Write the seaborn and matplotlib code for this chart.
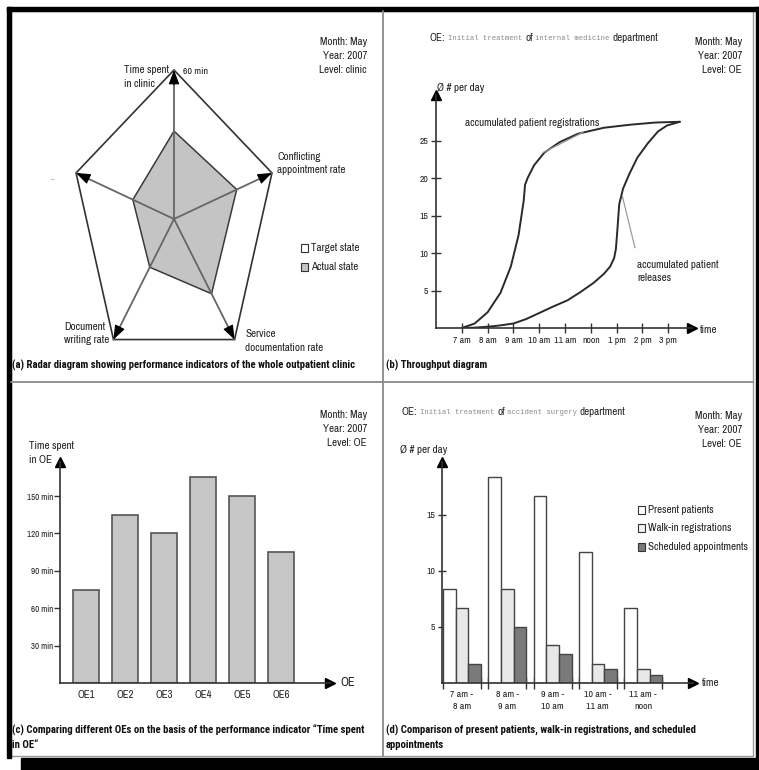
import numpy as np
import pandas as pd
import matplotlib
matplotlib.use('Agg')
import matplotlib.pyplot as plt
from matplotlib.patches import Rectangle
from matplotlib import font_manager
import seaborn as sns

# ---- (a) radar: performance indicators of the clinic
radar_names = ['Time spent\nin clinic', 'Conflicting\nappointment rate',
               'Service\ndocumentation rate', 'Document\nwriting rate', '...']
target_r = [1.0, 1.0, 1.0, 1.0, 1.0]
actual_r = [0.59, 0.64, 0.62, 0.40, 0.42]

# ---- (b) throughput diagram
reg_hours = [7.0, 7.5, 8.0, 8.5, 8.9, 9.2, 9.4, 9.45, 9.55, 9.8, 10.2, 10.8, 11.5, 12.5, 13.5, 14.5, 15.45]
reg_count = [0.0, 0.6, 2.1, 4.7, 8.2, 12.4, 17.0, 19.1, 20.0, 21.7, 23.4, 24.8, 25.9, 26.7, 27.1, 27.4, 27.5]
rel_hours = [7.0, 7.5, 8.1, 8.5, 9.0, 9.5, 10.0, 10.5, 11.1, 11.6, 12.1, 12.5, 12.75, 12.9, 12.97, 13.02,
             13.1, 13.25, 13.5, 13.8, 14.2, 14.6, 14.95, 15.45]
rel_count = [0.0, 0.05, 0.2, 0.35, 0.6, 1.2, 2.0, 2.8, 3.7, 4.8, 6.0, 7.2, 8.2, 9.3, 10.5, 12.7,
             16.5, 18.6, 20.6, 22.7, 24.6, 26.2, 27.0, 27.5]
hour_ticks = [7, 8, 9, 10, 11, 12, 13, 14, 15]
hour_labels = ['7 am', '8 am', '9 am', '10 am', '11 am', 'noon', '1 pm', '2 pm', '3 pm']
count_ticks = [5, 10, 15, 20, 25]

# ---- (c) time spent in OE
oe_names = ['OE1', 'OE2', 'OE3', 'OE4', 'OE5', 'OE6']
oe_minutes = [75, 135, 120, 165, 150, 105]
minute_ticks = [30, 60, 90, 120, 150]

# ---- (d) patients per hour slot
slots = ['7 am -\n8 am', '8 am -\n9 am', '9 am -\n10 am', '10 am -\n11 am', '11 am -\nnoon']
kinds = ['Present patients', 'Walk-in registrations', 'Scheduled appointments']
present = [8.4, 18.4, 16.7, 11.7, 6.7]
walk_in = [6.7, 8.4, 3.4, 1.7, 1.25]
scheduled = [1.7, 5.0, 2.6, 1.25, 0.75]
slot_ticks = [5, 10, 15]

sns.set_style('white')
candidates = ['Liberation Sans Narrow', 'Archivo Narrow', 'Roboto Condensed', 'Fira Sans Condensed',
              'Barlow Semi Condensed', 'Encode Sans Condensed', 'Asap Condensed', 'Cabin Condensed']


def weights(name):
    out = set()
    for f in font_manager.fontManager.ttflist:
        if f.name == name:
            w = f.weight
            if isinstance(w, str):
                w = font_manager.weight_dict.get(w, 400)
            out.add(int(w))
    return out


narrow = next((n for n in candidates if weights(n)), 'Liberation Sans')
narrow_bold = next((n for n in candidates if any(w >= 600 for w in weights(n))), 'Liberation Sans')
plt.rcParams['font.family'] = [narrow, 'DejaVu Sans']

W, H = 759, 770
fig = plt.figure(figsize=(W / 100, H / 100), dpi=100)
renderer = fig.canvas.get_renderer()


def width_ratio(family, weight):
    # sizes below are given for Arial widths; scale them to the narrow face
    sample = 'Month: May Year: 2007 accumulated patient registrations'
    a = fig.text(0, 0, sample, family='Liberation Sans', fontweight=weight, fontsize=10)
    b = fig.text(0, 0, sample, family=family, fontweight=weight, fontsize=10)
    r = a.get_window_extent(renderer=renderer).width / b.get_window_extent(renderer=renderer).width
    a.remove()
    b.remove()
    return r


k = width_ratio(narrow, 'normal')
kb = width_ratio(narrow_bold, 'bold')

INK = '#222222'
fs = 6.6 * k
LS = 1.75 / k


def frac(x0, y0, x1, y1):
    return [x0 / W, 1 - y1 / H, (x1 - x0) / W, (y1 - y0) / H]


bg = fig.add_axes([0, 0, 1, 1])
bg.set_xlim(0, W)
bg.set_ylim(H, 0)
bg.axis('off')

# frame and dividers
bg.add_patch(Rectangle((10.5, 11), 742.5, 745, fill=False, ec='#9a9a9a', lw=1))
bg.add_patch(Rectangle((7, 7), 752, 3.5, color='black'))
bg.add_patch(Rectangle((7, 7), 3.5, 751, color='black'))
bg.add_patch(Rectangle((21, 758), 738, 12, color='black'))
bg.add_patch(Rectangle((755.5, 7), 3.5, 763, color='black'))
bg.plot([383, 383], [11, 756], color='#8a8a8a', lw=1.3)
bg.plot([10.5, 753], [382, 382], color='#8a8a8a', lw=1.3)

meta = dict(ha='right', va='center', fontsize=fs, color=INK, linespacing=LS, multialignment='right')
bg.text(367, 56, 'Month: May\nYear: 2007\nLevel: clinic', **meta)
bg.text(742, 56, 'Month: May\nYear: 2007\nLevel: OE', **meta)
bg.text(367, 429, 'Month: May\nYear: 2007\nLevel: OE', **meta)
bg.text(742, 430, 'Month: May\nYear: 2007\nLevel: OE', **meta)

cap = dict(ha='left', va='center', fontsize=6.6 * kb, fontweight='bold', family=[narrow_bold, 'DejaVu Sans'],
           color='#111111', linespacing=1.7 / kb)
bg.text(12, 365, '(a) Radar diagram showing performance indicators of the whole outpatient clinic', **cap)
bg.text(386, 365, '(b) Throughput diagram', **cap)
bg.text(12, 737.5, '(c) Comparing different OEs on the basis of the performance indicator \u201cTime spent\nin OE\u201c', **cap)
bg.text(386, 737.5, '(d) Comparison of present patients, walk-in registrations, and scheduled\nappointments', **cap)


def rich(x, y, pieces):
    for s, mono in pieces:
        if mono:
            t = bg.text(x, y, s, va='center', fontsize=5.2, family='Liberation Mono', color='#8a8a8a')
        else:
            t = bg.text(x, y, s, va='center', fontsize=fs, color=INK)
        x += t.get_window_extent(renderer=renderer).width + 2.5


rich(430, 38, [('OE:', False), ('Initial treatment', True), ('of', False),
               ('internal medicine', True), ('department', False)])
rich(402, 412, [('OE:', False), ('Initial treatment', True), ('of', False),
                ('accident surgery', True), ('department', False)])

# ---------------- (a) radar
cx, cy, rx, ry = 174, 219, 103, 149
axa = fig.add_axes(frac(cx - 1.3 * rx, cy - 1.3 * ry, cx + 1.3 * rx, cy + 1.3 * ry))
axa.set_xlim(-1.3, 1.3)
axa.set_ylim(-1.3, 1.3)
axa.axis('off')
ang = np.deg2rad(90 - 72 * np.arange(len(radar_names)))
tx, ty = np.array(target_r) * np.cos(ang), np.array(target_r) * np.sin(ang)
ax_, ay_ = np.array(actual_r) * np.cos(ang), np.array(actual_r) * np.sin(ang)
axa.fill(tx, ty, facecolor='white', edgecolor='#333333', lw=1.2, zorder=1)
axa.fill(ax_, ay_, facecolor='#c4c4c4', edgecolor='#3a3a3a', lw=1.1, zorder=2)
for vx, vy in zip(tx, ty):
    axa.plot([0, vx], [0, vy], color='#666666', lw=1.3, zorder=3)
    axa.annotate('', xy=(vx, vy), xytext=(0.9 * vx, 0.9 * vy), zorder=4,
                 arrowprops=dict(arrowstyle='-|>,head_length=0.8,head_width=0.3', color='black',
                                 lw=0.8, mutation_scale=11, shrinkA=0, shrinkB=0))

lab = dict(fontsize=fs, color=INK, va='center', linespacing=LS)
bg.text(124, 77, radar_names[0], ha='left', **lab)
bg.text(277, 163.5, radar_names[1], ha='left', **lab)
bg.text(245, 341, radar_names[2], ha='left', **lab)
bg.text(64, 333.5, radar_names[3], ha='left', **lab)
bg.text(53, 178, radar_names[4], ha='center', fontsize=5, color='#777777', va='center')
small = dict(fontsize=5.9 * k, color=INK, va='center')
bg.text(183, 72, '60 min', ha='left', **small)
bg.text(178, 122, '120 min', ha='left', **small)
bg.text(263, 171, '0%', ha='right', **small)
bg.text(241, 197, '23%', ha='left', **small)
bg.text(217, 293, '60%', ha='left', **small)
bg.text(228, 329, '100%', ha='right', **small)
bg.text(129, 328, '100%', ha='left', **small)
bg.text(148, 290, '40%', ha='left', **small)
# legend (a)
for yy, fc, name in [(248, 'white', 'Target state'), (267, '#c4c4c4', 'Actual state')]:
    bg.add_patch(Rectangle((301, yy - 4), 7, 8, facecolor=fc, edgecolor='#333333', lw=0.8))
    bg.text(311, yy, name, ha='left', **lab)


def axis_arrows(ax):
    for s in ['top', 'right']:
        ax.spines[s].set_visible(False)
    for s in ['left', 'bottom']:
        ax.spines[s].set_color('#333333')
        ax.spines[s].set_linewidth(1.2)
    ax.plot(1, 0, marker='>', ms=7, color='black', transform=ax.transAxes, clip_on=False)
    ax.plot(0, 1, marker='^', ms=7, color='black', transform=ax.transAxes, clip_on=False)
    ax.set_facecolor('none')
    ax.set_xlabel('')
    ax.set_ylabel('')


# ---------------- (b) throughput
axb = fig.add_axes(frac(436, 95, 692, 328))
sns.lineplot(x=reg_hours, y=reg_count, ax=axb, color='#2a2a2a', lw=1.4, sort=False, estimator=None)
sns.lineplot(x=rel_hours, y=rel_count, ax=axb, color='#2a2a2a', lw=1.4, sort=False, estimator=None)
axb.set_xlim(6, 15.92)
axb.set_ylim(0, 31.07)
axis_arrows(axb)
axb.set_xticks(hour_ticks, hour_labels)
axb.set_yticks(count_ticks, [str(v) for v in count_ticks])
axb.tick_params(direction='inout', length=7, width=1, colors='#333333', labelsize=5.8 * k, pad=2,
                labelcolor=INK, left=True, bottom=True)
axb.annotate('accumulated patient registrations', xy=(10.15, 23.4), xytext=(7.12, 27.3),
             fontsize=fs, color=INK, va='center', ha='left')
axb.plot([11.7, 10.15], [26.1, 23.4], color='#9a9a9a', lw=0.9)
axb.annotate('accumulated patient\nreleases', xy=(13.22, 17.6), xytext=(13.79, 7.55),
             fontsize=fs, color=INK, va='center', ha='left', linespacing=LS)
axb.plot([13.71, 13.22], [10.7, 17.6], color='#9a9a9a', lw=0.9)
bg.text(437, 88, '\u00d8 # per day', ha='left', va='center', fontsize=fs, color=INK)
bg.text(700, 330, 'time', ha='left', va='center', fontsize=fs, color=INK)

# ---------------- (c) time spent in OE
axc = fig.add_axes(frac(60, 462, 330, 683))
sns.barplot(x=oe_names, y=oe_minutes, ax=axc, color='#c6c6c6', saturation=1,
            edgecolor='#555555', linewidth=1.2, width=0.67)
axc.set_xlim(-0.667, 6.256)
axc.set_ylim(0, 177.3)
axis_arrows(axc)
axc.set_yticks(minute_ticks, [f'{m} min' for m in minute_ticks])
axc.tick_params(axis='y', direction='out', length=4, width=1, colors='#333333', labelsize=5.3 * k,
                pad=1, labelcolor=INK, left=True)
axc.tick_params(axis='x', length=0, labelsize=6.4 * k, pad=5, labelcolor=INK)
bg.text(29, 453, 'Time spent\nin OE', ha='left', va='center', fontsize=fs, color=INK, linespacing=LS)
bg.text(340, 683, 'OE', ha='left', va='center', fontsize=fs + 1, color=INK)

# ---------------- (d) present / walk-in / scheduled
df = pd.DataFrame({
    'slot': slots * 3,
    'kind': [kd for kd in kinds for _ in slots],
    'value': present + walk_in + scheduled,
})
axd = fig.add_axes(frac(442, 462, 693, 683))
pal = ['white', '#e8e8e8', '#7a7a7a']
sns.barplot(data=df, x='slot', y='value', hue='kind', palette=pal, saturation=1,
            edgecolor='#444444', linewidth=1.0, width=0.84, legend=False, ax=axd)
axd.set_xlim(-0.44, 5.1)
axd.set_ylim(0, 19.7)
axis_arrows(axd)
centers = np.arange(len(slots))
axd.set_xticks(centers, slots)
axd.set_xticks(np.concatenate([centers - 0.42, centers + 0.42]), minor=True)
axd.tick_params(axis='x', which='major', length=0, labelsize=5.9 * k, pad=5, labelcolor=INK)
axd.tick_params(axis='x', which='minor', direction='inout', length=8, width=1, colors='#333333', bottom=True)
axd.set_yticks(slot_ticks, [str(v) for v in slot_ticks])
axd.tick_params(axis='y', direction='inout', length=6, width=1, colors='#333333', labelsize=5.8 * k,
                pad=2, labelcolor=INK, left=True)
for lbl in axd.get_xticklabels():
    lbl.set_linespacing(LS)
bg.text(400, 450, '\u00d8 # per day', ha='left', va='center', fontsize=fs, color=INK)
bg.text(702, 683, 'time', ha='left', va='center', fontsize=fs, color=INK)
for yy, fc, name in zip([510, 528, 547], ['white', '#f2f2f2', '#7a7a7a'], kinds):
    bg.add_patch(Rectangle((638, yy - 4), 7, 8, facecolor=fc, edgecolor='#333333', lw=0.8))
    bg.text(648, yy, name, ha='left', **lab)

fig.savefig('out.png', dpi=100)
